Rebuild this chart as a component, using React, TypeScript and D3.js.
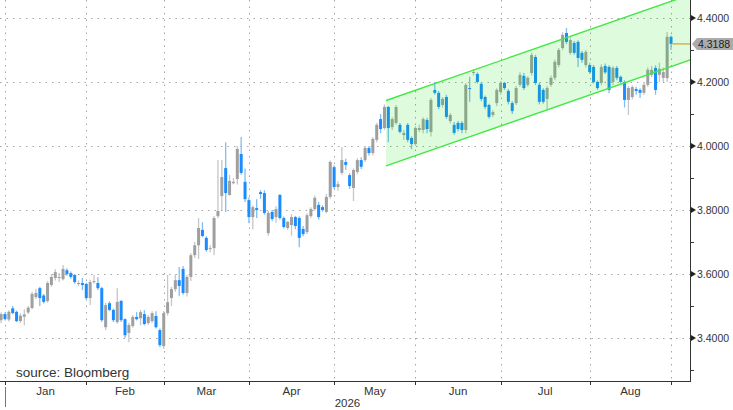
import React, { useEffect, useRef } from 'react';
import * as d3 from 'd3';

// daily OHLC, 31 Dec 2025 .. 1 Sep 2026 (weekdays, no 1 Jan)
const open = [
  3.456, 3.475, 3.458, 3.493, 3.482, 3.453, 3.467, 3.480, 3.494, 3.528,
  3.556, 3.533, 3.516, 3.566, 3.588, 3.588, 3.584, 3.612, 3.603, 3.597,
  3.569, 3.572, 3.569, 3.525, 3.575, 3.572, 3.556, 3.434, 3.509, 3.488,
  3.450, 3.516, 3.459, 3.416, 3.438, 3.466, 3.462, 3.475, 3.447, 3.453,
  3.469, 3.425, 3.375, 3.478, 3.525, 3.553, 3.581, 3.616, 3.541, 3.591,
  3.659, 3.690, 3.738, 3.713, 3.678, 3.681, 3.781, 3.844, 3.931, 3.847,
  3.884, 3.897, 3.975, 3.888, 3.831, 3.778, 3.806, 3.856, 3.853, 3.728,
  3.794, 3.778, 3.847, 3.775, 3.744, 3.753, 3.778, 3.775, 3.741, 3.731,
  3.781, 3.803, 3.816, 3.809, 3.794, 3.841, 3.934, 3.872, 3.916, 3.950,
  3.909, 3.869, 3.919, 3.956, 3.956, 3.994, 3.978, 4.019, 4.084, 4.056,
  4.122, 4.059, 4.072, 4.066, 4.034, 4.066, 4.025, 4.006, 4.050, 4.050,
  4.081, 4.044, 4.175, 4.166, 4.128, 4.153, 4.078, 4.066, 4.072, 4.072,
  4.050, 4.181, 4.228, 4.225, 4.194, 4.153, 4.128, 4.097, 4.134, 4.169,
  4.197, 4.172, 4.134, 4.134, 4.191, 4.219, 4.191, 4.228, 4.278, 4.191,
  4.175, 4.147, 4.191, 4.213, 4.253, 4.306, 4.353, 4.291, 4.322, 4.325,
  4.291, 4.253, 4.253, 4.247, 4.200, 4.197, 4.250, 4.247, 4.200, 4.244,
  4.216, 4.200, 4.144, 4.153, 4.178, 4.175, 4.166, 4.191, 4.222, 4.244,
  4.222, 4.213, 4.212, 4.341,
];
const high = [
  3.481, 3.480, 3.487, 3.500, 3.486, 3.478, 3.490, 3.500, 3.545, 3.553,
  3.560, 3.538, 3.578, 3.600, 3.615, 3.603, 3.628, 3.618, 3.608, 3.600,
  3.580, 3.588, 3.572, 3.582, 3.597, 3.590, 3.560, 3.510, 3.515, 3.492,
  3.556, 3.519, 3.462, 3.448, 3.472, 3.481, 3.488, 3.487, 3.472, 3.484,
  3.484, 3.430, 3.485, 3.597, 3.560, 3.600, 3.622, 3.625, 3.597, 3.665,
  3.700, 3.775, 3.762, 3.718, 3.690, 3.781, 3.956, 3.956, 4.012, 3.910,
  3.900, 4.000, 4.028, 3.930, 3.840, 3.815, 3.834, 3.862, 3.862, 3.797,
  3.800, 3.812, 3.850, 3.780, 3.766, 3.787, 3.782, 3.780, 3.750, 3.790,
  3.809, 3.845, 3.825, 3.815, 3.850, 3.955, 3.940, 3.890, 3.997, 3.960,
  3.915, 3.930, 3.962, 3.965, 4.000, 4.000, 4.028, 4.072, 4.100, 4.130,
  4.125, 4.090, 4.128, 4.072, 4.050, 4.072, 4.030, 4.062, 4.066, 4.090,
  4.088, 4.150, 4.201, 4.172, 4.153, 4.160, 4.103, 4.075, 4.078, 4.078,
  4.197, 4.216, 4.240, 4.230, 4.200, 4.158, 4.132, 4.112, 4.180, 4.203,
  4.200, 4.178, 4.140, 4.188, 4.230, 4.228, 4.218, 4.292, 4.285, 4.197,
  4.180, 4.188, 4.220, 4.270, 4.306, 4.355, 4.369, 4.338, 4.328, 4.330,
  4.297, 4.300, 4.260, 4.253, 4.205, 4.255, 4.258, 4.252, 4.250, 4.250,
  4.220, 4.205, 4.188, 4.190, 4.185, 4.180, 4.200, 4.245, 4.250, 4.252,
  4.260, 4.245, 4.356, 4.345,
];
const low = [
  3.447, 3.455, 3.452, 3.475, 3.450, 3.447, 3.440, 3.475, 3.490, 3.522,
  3.500, 3.508, 3.510, 3.560, 3.580, 3.575, 3.580, 3.595, 3.585, 3.570,
  3.562, 3.550, 3.520, 3.503, 3.570, 3.550, 3.450, 3.425, 3.484, 3.450,
  3.445, 3.450, 3.400, 3.387, 3.432, 3.455, 3.440, 3.440, 3.441, 3.448,
  3.430, 3.372, 3.366, 3.470, 3.500, 3.545, 3.531, 3.535, 3.530, 3.578,
  3.650, 3.647, 3.715, 3.670, 3.668, 3.659, 3.775, 3.800, 3.794, 3.845,
  3.880, 3.880, 3.910, 3.825, 3.759, 3.740, 3.775, 3.835, 3.785, 3.720,
  3.765, 3.760, 3.770, 3.742, 3.738, 3.720, 3.740, 3.684, 3.718, 3.725,
  3.775, 3.798, 3.770, 3.795, 3.790, 3.835, 3.866, 3.860, 3.910, 3.925,
  3.866, 3.828, 3.912, 3.928, 3.950, 3.970, 3.970, 4.012, 4.040, 4.050,
  4.012, 4.050, 4.066, 4.040, 4.019, 4.012, 3.990, 4.000, 4.044, 4.040,
  4.040, 4.030, 4.160, 4.115, 4.120, 4.085, 4.070, 4.035, 4.045, 4.040,
  4.040, 4.138, 4.220, 4.195, 4.140, 4.115, 4.085, 4.090, 4.125, 4.160,
  4.175, 4.130, 4.100, 4.128, 4.185, 4.175, 4.185, 4.220, 4.190, 4.130,
  4.132, 4.113, 4.185, 4.205, 4.245, 4.300, 4.318, 4.285, 4.285, 4.247,
  4.260, 4.245, 4.225, 4.195, 4.175, 4.190, 4.225, 4.165, 4.190, 4.205,
  4.195, 4.120, 4.097, 4.145, 4.160, 4.150, 4.160, 4.185, 4.215, 4.160,
  4.200, 4.200, 4.200, 4.300,
];
const close = [
  3.475, 3.460, 3.482, 3.478, 3.453, 3.470, 3.474, 3.495, 3.538, 3.541,
  3.525, 3.513, 3.572, 3.591, 3.606, 3.591, 3.616, 3.600, 3.591, 3.575,
  3.572, 3.566, 3.525, 3.575, 3.578, 3.556, 3.456, 3.503, 3.488, 3.456,
  3.513, 3.456, 3.409, 3.441, 3.466, 3.459, 3.481, 3.444, 3.466, 3.478,
  3.434, 3.378, 3.478, 3.512, 3.553, 3.581, 3.563, 3.541, 3.591, 3.659,
  3.690, 3.744, 3.719, 3.675, 3.681, 3.775, 3.797, 3.903, 3.853, 3.891,
  3.888, 3.991, 3.916, 3.834, 3.778, 3.809, 3.800, 3.850, 3.791, 3.791,
  3.772, 3.803, 3.775, 3.747, 3.763, 3.778, 3.750, 3.713, 3.725, 3.784,
  3.803, 3.838, 3.778, 3.800, 3.841, 3.950, 3.872, 3.881, 3.956, 3.941,
  3.875, 3.925, 3.956, 3.935, 3.994, 3.978, 4.022, 4.066, 4.053, 4.122,
  4.056, 4.084, 4.122, 4.044, 4.041, 4.019, 4.006, 4.056, 4.056, 4.084,
  4.053, 4.144, 4.166, 4.122, 4.147, 4.091, 4.097, 4.041, 4.053, 4.050,
  4.191, 4.178, 4.231, 4.200, 4.147, 4.122, 4.091, 4.106, 4.175, 4.197,
  4.181, 4.138, 4.109, 4.181, 4.222, 4.181, 4.213, 4.284, 4.197, 4.138,
  4.138, 4.181, 4.213, 4.263, 4.300, 4.347, 4.325, 4.331, 4.291, 4.275,
  4.269, 4.294, 4.231, 4.200, 4.181, 4.247, 4.230, 4.175, 4.244, 4.213,
  4.200, 4.144, 4.181, 4.184, 4.172, 4.166, 4.191, 4.238, 4.238, 4.175,
  4.241, 4.231, 4.341, 4.319,
];

const monthLabels = ['Jan', 'Feb', 'Mar', 'Apr', 'May', 'Jun', 'Jul', 'Aug'];
const yearLabel = '2026';
const yTicks = [3.4, 3.6, 3.8, 4.0, 4.2, 4.4];
const yMinor = [3.3, 3.5, 3.7, 3.9, 4.1, 4.3];
const lastValue = 4.3188;

// hand-drawn trend channel (trading-day position, price)
const channelDays = [99.4, 178.5];
const channelUpper = [4.142, 4.475];
const channelLower = [3.938, 4.271];

// trading days: weekdays, 1 Jan closed
const tradingDays: Date[] = (() => {
  const out: Date[] = [];
  const d = new Date(2025, 11, 31);
  while (out.length < close.length) {
    const wd = d.getDay();
    const newYear = d.getMonth() === 0 && d.getDate() === 1;
    if (wd !== 0 && wd !== 6 && !newYear) out.push(new Date(d));
    d.setDate(d.getDate() + 1);
  }
  return out;
})();

const W = 733;
const H = 410;
const plotRight = 690;
const plotBottom = 381;
const font = "'Liberation Sans', Arial, sans-serif";

const CandleChart = () => {
  const ref = useRef(null);

  useEffect(() => {
    const svg = d3.select(ref.current);
    svg.selectAll('*').remove();

    const x = d3.scaleLinear().domain([-0.28, 177.9]).range([0, plotRight]);
    const y = d3.scaleLinear().domain([3.266, 4.456]).range([plotBottom, 0]);

    svg.append('rect').attr('width', W).attr('height', H).attr('fill', '#ffffff');

    svg.append('defs').append('clipPath').attr('id', 'plot')
      .append('rect').attr('x', 0).attr('y', 0).attr('width', plotRight).attr('height', plotBottom);

    // month starts
    const monthStarts: number[] = [];
    tradingDays.forEach((d, i) => {
      if (i > 0 && d.getMonth() !== tradingDays[i - 1].getMonth()) monthStarts.push(i);
    });

    // grid
    const grid = svg.append('g').attr('stroke', '#a4a4a4').attr('stroke-width', 1)
      .attr('stroke-dasharray', '1.5,5');
    grid.selectAll('.h').data(yTicks).enter().append('line')
      .attr('x1', 0).attr('x2', plotRight)
      .attr('y1', d => Math.round(y(d)) + 0.5).attr('y2', d => Math.round(y(d)) + 0.5);
    grid.selectAll('.v').data(monthStarts).enter().append('line')
      .attr('x1', d => Math.round(x(d)) + 0.5).attr('x2', d => Math.round(x(d)) + 0.5)
      .attr('y1', 0).attr('y2', plotBottom);

    // candles
    const idx = d3.range(close.length);
    const up = (i: number) => close[i] >= open[i];
    const candles = svg.append('g').attr('clip-path', 'url(#plot)');
    candles.selectAll('.wick').data(idx).enter().append('line')
      .attr('x1', i => x(i)).attr('x2', i => x(i))
      .attr('y1', i => y(Math.max(high[i], open[i], close[i])))
      .attr('y2', i => y(Math.min(low[i], open[i], close[i])))
      .attr('stroke', i => (up(i) ? '#c6c6c6' : '#7fbdf7'))
      .attr('stroke-width', 1.3);
    candles.selectAll('.body').data(idx).enter().append('rect')
      .attr('x', i => x(i) - 1.5)
      .attr('width', 3)
      .attr('y', i => y(Math.max(open[i], close[i])))
      .attr('height', i => Math.max(1, Math.abs(y(open[i]) - y(close[i]))))
      .attr('fill', i => (up(i) ? '#9f9f9f' : '#1a8cff'));

    // channel
    const ch = svg.append('g').attr('clip-path', 'url(#plot)');
    const poly = [
      [x(channelDays[0]), y(channelUpper[0])],
      [x(channelDays[1]), y(channelUpper[1])],
      [x(channelDays[1]), y(channelLower[1])],
      [x(channelDays[0]), y(channelLower[0])],
    ];
    ch.append('path')
      .attr('d', 'M' + poly.map(p => p.join(',')).join('L') + 'Z')
      .attr('fill', '#00e000').attr('fill-opacity', 0.13).attr('stroke', 'none');
    const edge = d3.line<number>().x(i => x(channelDays[i]));
    ch.append('path').attr('d', edge.y(i => y(channelUpper[i]))([0, 1]))
      .attr('stroke', '#44e844').attr('stroke-width', 1.4).attr('fill', 'none');
    ch.append('path').attr('d', edge.y(i => y(channelLower[i]))([0, 1]))
      .attr('stroke', '#44e844').attr('stroke-width', 1.4).attr('fill', 'none');

    // axes
    svg.append('line').attr('x1', plotRight + 0.5).attr('x2', plotRight + 0.5)
      .attr('y1', 0).attr('y2', plotBottom + 1).attr('stroke', '#333').attr('stroke-width', 1);
    svg.append('line').attr('x1', 0).attr('x2', plotRight + 1)
      .attr('y1', plotBottom + 0.5).attr('y2', plotBottom + 0.5).attr('stroke', '#333').attr('stroke-width', 1);

    svg.selectAll('.mtick').data(monthStarts).enter().append('line')
      .attr('x1', d => Math.round(x(d)) + 0.5).attr('x2', d => Math.round(x(d)) + 0.5)
      .attr('y1', plotBottom).attr('y2', plotBottom + 4)
      .attr('stroke', '#333');
    svg.append('line')
      .attr('x1', Math.round(x(monthStarts[0])) + 0.5).attr('x2', Math.round(x(monthStarts[0])) + 0.5)
      .attr('y1', plotBottom + 6).attr('y2', plotBottom + 26)
      .attr('stroke', '#777');

    const bounds = [...monthStarts];
    svg.selectAll('.mlabel').data(monthLabels).enter().append('text')
      .attr('x', (d, i) => (x(bounds[i]) + x(bounds[i + 1])) / 2)
      .attr('y', plotBottom + 14)
      .attr('text-anchor', 'middle')
      .attr('font-family', font).attr('font-size', 11.5).attr('fill', '#333')
      .text(d => d);
    svg.append('text')
      .attr('x', (x(monthStarts[0]) + plotRight) / 2)
      .attr('y', plotBottom + 26)
      .attr('text-anchor', 'middle')
      .attr('font-family', font).attr('font-size', 11.5).attr('fill', '#333')
      .text(yearLabel);

    // y ticks
    svg.selectAll('.ytri').data(yTicks).enter().append('path')
      .attr('d', d => `M${plotRight + 1},${y(d) - 3}L${plotRight + 6},${y(d)}L${plotRight + 1},${y(d) + 3}Z`)
      .attr('fill', '#222');
    svg.selectAll('.yminor').data(yMinor).enter().append('line')
      .attr('x1', plotRight).attr('x2', plotRight + 4)
      .attr('y1', d => Math.round(y(d)) + 0.5).attr('y2', d => Math.round(y(d)) + 0.5)
      .attr('stroke', '#333');
    svg.selectAll('.ylabel').data(yTicks).enter().append('text')
      .attr('x', plotRight + 7).attr('y', d => y(d)).attr('dy', '0.36em')
      .attr('font-family', font).attr('font-size', 10.5).attr('fill', '#333')
      .text(d => d.toFixed(4));

    // last value marker
    const last = close.length - 1;
    const ly = y(lastValue);
    svg.append('line').attr('x1', x(last) + 1.5).attr('x2', plotRight)
      .attr('y1', ly).attr('y2', ly).attr('stroke', '#c9a23a').attr('stroke-width', 1.2);
    svg.append('path')
      .attr('d', `M${plotRight + 2},${ly}L${plotRight + 7},${ly - 6}L${W},${ly - 6}L${W},${ly + 6}L${plotRight + 7},${ly + 6}Z`)
      .attr('fill', '#ababab');
    svg.append('text')
      .attr('x', plotRight + 8).attr('y', ly).attr('dy', '0.36em')
      .attr('font-family', font).attr('font-size', 10.5).attr('fill', '#222')
      .text(lastValue.toFixed(4));

    svg.append('text')
      .attr('x', 16).attr('y', 377)
      .attr('font-family', font).attr('font-size', 13.5).attr('fill', '#333')
      .text('source: Bloomberg');
  }, []);

  return <svg ref={ref} width={W} height={H} style={{ position: 'absolute', left: 0, top: 0 }}></svg>;
};

export default function App() {
  return <CandleChart />;
}
